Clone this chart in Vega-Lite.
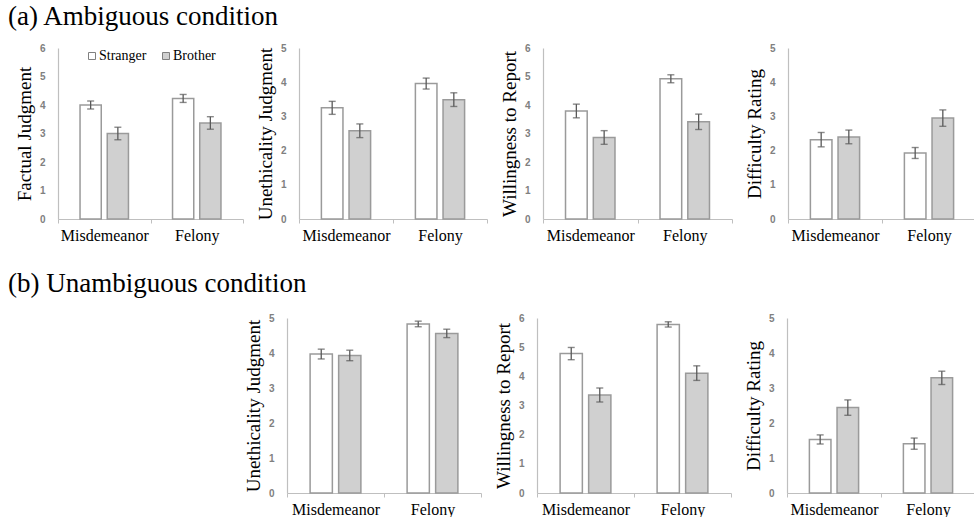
{
  "$schema": "https://vega.github.io/schema/vega-lite/v6.json",
  "autosize": {"type": "pad"},
  "padding": {"left": 8, "top": 3, "right": 0, "bottom": 0},
  "background": "white",
  "datasets": {
    "d": [
      {"panel": "p1", "crime": "Misdemeanor", "group": "Stranger", "mean": 4.0, "lo": 3.86, "hi": 4.14},
      {"panel": "p1", "crime": "Misdemeanor", "group": "Brother", "mean": 3.0, "lo": 2.78, "hi": 3.22},
      {"panel": "p1", "crime": "Felony", "group": "Stranger", "mean": 4.23, "lo": 4.09, "hi": 4.37},
      {"panel": "p1", "crime": "Felony", "group": "Brother", "mean": 3.37, "lo": 3.15, "hi": 3.59},
      {"panel": "p2", "crime": "Misdemeanor", "group": "Stranger", "mean": 3.25, "lo": 3.06, "hi": 3.44},
      {"panel": "p2", "crime": "Misdemeanor", "group": "Brother", "mean": 2.58, "lo": 2.38, "hi": 2.78},
      {"panel": "p2", "crime": "Felony", "group": "Stranger", "mean": 3.96, "lo": 3.8, "hi": 4.12},
      {"panel": "p2", "crime": "Felony", "group": "Brother", "mean": 3.49, "lo": 3.29, "hi": 3.69},
      {"panel": "p3", "crime": "Misdemeanor", "group": "Stranger", "mean": 3.79, "lo": 3.55, "hi": 4.03},
      {"panel": "p3", "crime": "Misdemeanor", "group": "Brother", "mean": 2.86, "lo": 2.62, "hi": 3.1},
      {"panel": "p3", "crime": "Felony", "group": "Stranger", "mean": 4.92, "lo": 4.78, "hi": 5.06},
      {"panel": "p3", "crime": "Felony", "group": "Brother", "mean": 3.41, "lo": 3.14, "hi": 3.68},
      {"panel": "p4", "crime": "Misdemeanor", "group": "Stranger", "mean": 2.32, "lo": 2.11, "hi": 2.53},
      {"panel": "p4", "crime": "Misdemeanor", "group": "Brother", "mean": 2.4, "lo": 2.2, "hi": 2.6},
      {"panel": "p4", "crime": "Felony", "group": "Stranger", "mean": 1.93, "lo": 1.77, "hi": 2.09},
      {"panel": "p4", "crime": "Felony", "group": "Brother", "mean": 2.95, "lo": 2.71, "hi": 3.19},
      {"panel": "p5", "crime": "Misdemeanor", "group": "Stranger", "mean": 3.97, "lo": 3.83, "hi": 4.11},
      {"panel": "p5", "crime": "Misdemeanor", "group": "Brother", "mean": 3.93, "lo": 3.78, "hi": 4.08},
      {"panel": "p5", "crime": "Felony", "group": "Stranger", "mean": 4.83, "lo": 4.75, "hi": 4.91},
      {"panel": "p5", "crime": "Felony", "group": "Brother", "mean": 4.56, "lo": 4.44, "hi": 4.68},
      {"panel": "p6", "crime": "Misdemeanor", "group": "Stranger", "mean": 4.78, "lo": 4.57, "hi": 4.99},
      {"panel": "p6", "crime": "Misdemeanor", "group": "Brother", "mean": 3.36, "lo": 3.12, "hi": 3.6},
      {"panel": "p6", "crime": "Felony", "group": "Stranger", "mean": 5.78, "lo": 5.69, "hi": 5.87},
      {"panel": "p6", "crime": "Felony", "group": "Brother", "mean": 4.11, "lo": 3.86, "hi": 4.36},
      {"panel": "p7", "crime": "Misdemeanor", "group": "Stranger", "mean": 1.53, "lo": 1.4, "hi": 1.66},
      {"panel": "p7", "crime": "Misdemeanor", "group": "Brother", "mean": 2.44, "lo": 2.22, "hi": 2.66},
      {"panel": "p7", "crime": "Felony", "group": "Stranger", "mean": 1.41, "lo": 1.25, "hi": 1.57},
      {"panel": "p7", "crime": "Felony", "group": "Brother", "mean": 3.29, "lo": 3.1, "hi": 3.48}
    ],
    "empty": []
  },
  "data": {"name": "d"},
  "spacing": 27,
  "resolve": {
    "scale": {"x": "independent", "y": "independent", "xOffset": "independent", "fill": "independent"},
    "legend": {"fill": "independent"}
  },
  "vconcat": [
    {
      "title": {"text": "(a) Ambiguous condition", "dx": -50, "offset": 12},
      "bounds": "flush",
      "spacing": 56,
      "resolve": {
        "scale": {"x": "independent", "y": "independent", "xOffset": "independent", "fill": "independent"},
        "legend": {"fill": "independent"}
      },
      "hconcat": [
        {
          "width": 185, "height": 171,
          "transform": [{"filter": "datum.panel == 'p1'"}],
          "encoding": {
            "x": {"field": "crime", "type": "nominal", "sort": ["Misdemeanor", "Felony"], "scale": {"paddingInner": 0, "paddingOuter": 0}},
            "xOffset": {"field": "group", "type": "nominal", "sort": ["Stranger", "Brother"], "scale": {"paddingInner": 0.22, "paddingOuter": 0.81}}
          },
          "layer": [
            {"mark": {"type": "bar", "stroke": "#9a9a9a", "strokeWidth": 1.5},
             "encoding": {
               "y": {"field": "mean", "type": "quantitative", "title": "Factual Judgment", "scale": {"domain": [0, 6]}, "axis": {"values": [0, 1, 2, 3, 4, 5, 6], "labelOverlap": false}},
               "fill": {"field": "group", "type": "nominal", "sort": ["Stranger", "Brother"], "scale": {"domain": ["Stranger", "Brother"], "range": ["#ffffff", "#d0d0d0"]},
                 "legend": {"title": null, "orient": "none", "legendX": 27, "legendY": 1, "padding": 0, "direction": "horizontal", "symbolType": "square", "symbolSize": 49, "symbolStrokeColor": "#808080", "symbolStrokeWidth": 1, "labelFont": "Liberation Serif", "labelFontSize": 14, "labelColor": "#000", "labelOffset": 0, "columnPadding": 12}}
             }},
            {"mark": {"type": "rule", "color": "#595959", "strokeWidth": 1.3},
             "encoding": {"y": {"field": "lo", "type": "quantitative", "title": "Factual Judgment", "axis": {"values": [0, 1, 2, 3, 4, 5, 6], "labelOverlap": false}}, "y2": {"field": "hi"}}},
            {"mark": {"type": "tick", "color": "#595959", "size": 7, "thickness": 1.4},
             "encoding": {"y": {"field": "lo", "type": "quantitative", "title": "Factual Judgment", "axis": {"values": [0, 1, 2, 3, 4, 5, 6], "labelOverlap": false}}}},
            {"mark": {"type": "tick", "color": "#595959", "size": 7, "thickness": 1.4},
             "encoding": {"y": {"field": "hi", "type": "quantitative", "title": "Factual Judgment", "axis": {"values": [0, 1, 2, 3, 4, 5, 6], "labelOverlap": false}}}}
          ]
        },
        {
          "width": 188, "height": 171,
          "transform": [{"filter": "datum.panel == 'p2'"}],
          "encoding": {
            "x": {"field": "crime", "type": "nominal", "sort": ["Misdemeanor", "Felony"], "scale": {"paddingInner": 0, "paddingOuter": 0}},
            "xOffset": {"field": "group", "type": "nominal", "sort": ["Stranger", "Brother"], "scale": {"paddingInner": 0.22, "paddingOuter": 0.81}}
          },
          "layer": [
            {"mark": {"type": "bar", "stroke": "#9a9a9a", "strokeWidth": 1.5},
             "encoding": {
               "y": {"field": "mean", "type": "quantitative", "title": "Unethicality Judgment", "scale": {"domain": [0, 5]}, "axis": {"values": [0, 1, 2, 3, 4, 5], "labelOverlap": false}},
               "fill": {"field": "group", "type": "nominal", "scale": {"domain": ["Stranger", "Brother"], "range": ["#ffffff", "#d0d0d0"]}, "legend": null}
             }},
            {"mark": {"type": "rule", "color": "#595959", "strokeWidth": 1.3},
             "encoding": {"y": {"field": "lo", "type": "quantitative", "title": "Unethicality Judgment", "axis": {"values": [0, 1, 2, 3, 4, 5], "labelOverlap": false}}, "y2": {"field": "hi"}}},
            {"mark": {"type": "tick", "color": "#595959", "size": 7, "thickness": 1.4},
             "encoding": {"y": {"field": "lo", "type": "quantitative", "title": "Unethicality Judgment", "axis": {"values": [0, 1, 2, 3, 4, 5], "labelOverlap": false}}}},
            {"mark": {"type": "tick", "color": "#595959", "size": 7, "thickness": 1.4},
             "encoding": {"y": {"field": "hi", "type": "quantitative", "title": "Unethicality Judgment", "axis": {"values": [0, 1, 2, 3, 4, 5], "labelOverlap": false}}}}
          ]
        },
        {
          "width": 189, "height": 171,
          "transform": [{"filter": "datum.panel == 'p3'"}],
          "encoding": {
            "x": {"field": "crime", "type": "nominal", "sort": ["Misdemeanor", "Felony"], "scale": {"paddingInner": 0, "paddingOuter": 0}},
            "xOffset": {"field": "group", "type": "nominal", "sort": ["Stranger", "Brother"], "scale": {"paddingInner": 0.22, "paddingOuter": 0.81}}
          },
          "layer": [
            {"mark": {"type": "bar", "stroke": "#9a9a9a", "strokeWidth": 1.5},
             "encoding": {
               "y": {"field": "mean", "type": "quantitative", "title": "Willingness to Report", "scale": {"domain": [0, 6]}, "axis": {"values": [0, 1, 2, 3, 4, 5, 6], "labelOverlap": false}},
               "fill": {"field": "group", "type": "nominal", "scale": {"domain": ["Stranger", "Brother"], "range": ["#ffffff", "#d0d0d0"]}, "legend": null}
             }},
            {"mark": {"type": "rule", "color": "#595959", "strokeWidth": 1.3},
             "encoding": {"y": {"field": "lo", "type": "quantitative", "title": "Willingness to Report", "axis": {"values": [0, 1, 2, 3, 4, 5, 6], "labelOverlap": false}}, "y2": {"field": "hi"}}},
            {"mark": {"type": "tick", "color": "#595959", "size": 7, "thickness": 1.4},
             "encoding": {"y": {"field": "lo", "type": "quantitative", "title": "Willingness to Report", "axis": {"values": [0, 1, 2, 3, 4, 5, 6], "labelOverlap": false}}}},
            {"mark": {"type": "tick", "color": "#595959", "size": 7, "thickness": 1.4},
             "encoding": {"y": {"field": "hi", "type": "quantitative", "title": "Willingness to Report", "axis": {"values": [0, 1, 2, 3, 4, 5, 6], "labelOverlap": false}}}}
          ]
        },
        {
          "width": 188, "height": 171,
          "transform": [{"filter": "datum.panel == 'p4'"}],
          "encoding": {
            "x": {"field": "crime", "type": "nominal", "sort": ["Misdemeanor", "Felony"], "scale": {"paddingInner": 0, "paddingOuter": 0}},
            "xOffset": {"field": "group", "type": "nominal", "sort": ["Stranger", "Brother"], "scale": {"paddingInner": 0.22, "paddingOuter": 0.81}}
          },
          "layer": [
            {"mark": {"type": "bar", "stroke": "#9a9a9a", "strokeWidth": 1.5},
             "encoding": {
               "y": {"field": "mean", "type": "quantitative", "title": "Difficulty Rating", "scale": {"domain": [0, 5]}, "axis": {"values": [0, 1, 2, 3, 4, 5], "labelOverlap": false}},
               "fill": {"field": "group", "type": "nominal", "scale": {"domain": ["Stranger", "Brother"], "range": ["#ffffff", "#d0d0d0"]}, "legend": null}
             }},
            {"mark": {"type": "rule", "color": "#595959", "strokeWidth": 1.3},
             "encoding": {"y": {"field": "lo", "type": "quantitative", "title": "Difficulty Rating", "axis": {"values": [0, 1, 2, 3, 4, 5], "labelOverlap": false}}, "y2": {"field": "hi"}}},
            {"mark": {"type": "tick", "color": "#595959", "size": 7, "thickness": 1.4},
             "encoding": {"y": {"field": "lo", "type": "quantitative", "title": "Difficulty Rating", "axis": {"values": [0, 1, 2, 3, 4, 5], "labelOverlap": false}}}},
            {"mark": {"type": "tick", "color": "#595959", "size": 7, "thickness": 1.4},
             "encoding": {"y": {"field": "hi", "type": "quantitative", "title": "Difficulty Rating", "axis": {"values": [0, 1, 2, 3, 4, 5], "labelOverlap": false}}}}
          ]
        }
      ]
    },
    {
      "title": {"text": "(b) Unambiguous condition", "dx": -50, "offset": 15},
      "bounds": "flush",
      "spacing": 56,
      "resolve": {
        "scale": {"x": "independent", "y": "independent", "xOffset": "independent", "fill": "independent"},
        "legend": {"fill": "independent"}
      },
      "hconcat": [
        {
          "width": 173, "height": 175,
          "data": {"name": "empty"},
          "mark": {"type": "point", "opacity": 0}
        },
        {
          "width": 194, "height": 175,
          "transform": [{"filter": "datum.panel == 'p5'"}],
          "encoding": {
            "x": {"field": "crime", "type": "nominal", "sort": ["Misdemeanor", "Felony"], "scale": {"paddingInner": 0, "paddingOuter": 0}},
            "xOffset": {"field": "group", "type": "nominal", "sort": ["Stranger", "Brother"], "scale": {"paddingInner": 0.22, "paddingOuter": 0.81}}
          },
          "layer": [
            {"mark": {"type": "bar", "stroke": "#9a9a9a", "strokeWidth": 1.5},
             "encoding": {
               "y": {"field": "mean", "type": "quantitative", "title": "Unethicality Judgment", "scale": {"domain": [0, 5]}, "axis": {"values": [0, 1, 2, 3, 4, 5], "labelOverlap": false}},
               "fill": {"field": "group", "type": "nominal", "scale": {"domain": ["Stranger", "Brother"], "range": ["#ffffff", "#d0d0d0"]}, "legend": null}
             }},
            {"mark": {"type": "rule", "color": "#595959", "strokeWidth": 1.3},
             "encoding": {"y": {"field": "lo", "type": "quantitative", "title": "Unethicality Judgment", "axis": {"values": [0, 1, 2, 3, 4, 5], "labelOverlap": false}}, "y2": {"field": "hi"}}},
            {"mark": {"type": "tick", "color": "#595959", "size": 7, "thickness": 1.4},
             "encoding": {"y": {"field": "lo", "type": "quantitative", "title": "Unethicality Judgment", "axis": {"values": [0, 1, 2, 3, 4, 5], "labelOverlap": false}}}},
            {"mark": {"type": "tick", "color": "#595959", "size": 7, "thickness": 1.4},
             "encoding": {"y": {"field": "hi", "type": "quantitative", "title": "Unethicality Judgment", "axis": {"values": [0, 1, 2, 3, 4, 5], "labelOverlap": false}}}}
          ]
        },
        {
          "width": 194, "height": 175,
          "transform": [{"filter": "datum.panel == 'p6'"}],
          "encoding": {
            "x": {"field": "crime", "type": "nominal", "sort": ["Misdemeanor", "Felony"], "scale": {"paddingInner": 0, "paddingOuter": 0}},
            "xOffset": {"field": "group", "type": "nominal", "sort": ["Stranger", "Brother"], "scale": {"paddingInner": 0.22, "paddingOuter": 0.81}}
          },
          "layer": [
            {"mark": {"type": "bar", "stroke": "#9a9a9a", "strokeWidth": 1.5},
             "encoding": {
               "y": {"field": "mean", "type": "quantitative", "title": "Willingness to Report", "scale": {"domain": [0, 6]}, "axis": {"values": [0, 1, 2, 3, 4, 5, 6], "labelOverlap": false}},
               "fill": {"field": "group", "type": "nominal", "scale": {"domain": ["Stranger", "Brother"], "range": ["#ffffff", "#d0d0d0"]}, "legend": null}
             }},
            {"mark": {"type": "rule", "color": "#595959", "strokeWidth": 1.3},
             "encoding": {"y": {"field": "lo", "type": "quantitative", "title": "Willingness to Report", "axis": {"values": [0, 1, 2, 3, 4, 5, 6], "labelOverlap": false}}, "y2": {"field": "hi"}}},
            {"mark": {"type": "tick", "color": "#595959", "size": 7, "thickness": 1.4},
             "encoding": {"y": {"field": "lo", "type": "quantitative", "title": "Willingness to Report", "axis": {"values": [0, 1, 2, 3, 4, 5, 6], "labelOverlap": false}}}},
            {"mark": {"type": "tick", "color": "#595959", "size": 7, "thickness": 1.4},
             "encoding": {"y": {"field": "hi", "type": "quantitative", "title": "Willingness to Report", "axis": {"values": [0, 1, 2, 3, 4, 5, 6], "labelOverlap": false}}}}
          ]
        },
        {
          "width": 188, "height": 175,
          "transform": [{"filter": "datum.panel == 'p7'"}],
          "encoding": {
            "x": {"field": "crime", "type": "nominal", "sort": ["Misdemeanor", "Felony"], "scale": {"paddingInner": 0, "paddingOuter": 0}},
            "xOffset": {"field": "group", "type": "nominal", "sort": ["Stranger", "Brother"], "scale": {"paddingInner": 0.22, "paddingOuter": 0.81}}
          },
          "layer": [
            {"mark": {"type": "bar", "stroke": "#9a9a9a", "strokeWidth": 1.5},
             "encoding": {
               "y": {"field": "mean", "type": "quantitative", "title": "Difficulty Rating", "scale": {"domain": [0, 5]}, "axis": {"values": [0, 1, 2, 3, 4, 5], "labelOverlap": false}},
               "fill": {"field": "group", "type": "nominal", "scale": {"domain": ["Stranger", "Brother"], "range": ["#ffffff", "#d0d0d0"]}, "legend": null}
             }},
            {"mark": {"type": "rule", "color": "#595959", "strokeWidth": 1.3},
             "encoding": {"y": {"field": "lo", "type": "quantitative", "title": "Difficulty Rating", "axis": {"values": [0, 1, 2, 3, 4, 5], "labelOverlap": false}}, "y2": {"field": "hi"}}},
            {"mark": {"type": "tick", "color": "#595959", "size": 7, "thickness": 1.4},
             "encoding": {"y": {"field": "lo", "type": "quantitative", "title": "Difficulty Rating", "axis": {"values": [0, 1, 2, 3, 4, 5], "labelOverlap": false}}}},
            {"mark": {"type": "tick", "color": "#595959", "size": 7, "thickness": 1.4},
             "encoding": {"y": {"field": "hi", "type": "quantitative", "title": "Difficulty Rating", "axis": {"values": [0, 1, 2, 3, 4, 5], "labelOverlap": false}}}}
          ]
        }
      ]
    }
  ],
  "config": {
    "view": {"stroke": null},
    "title": {"font": "Liberation Serif", "fontSize": 27, "fontWeight": "normal", "anchor": "start", "frame": "group", "color": "#000000"},
    "axisX": {"title": null, "labelAngle": 0, "labelFont": "Liberation Serif", "labelFontSize": 16, "labelColor": "#000000", "labelPadding": 4, "tickBand": "extent", "tickSize": 4, "tickColor": "#BFBFBF", "domainColor": "#BFBFBF", "domainWidth": 1.2},
    "axisY": {"domainColor": "#BFBFBF", "domainWidth": 1.2, "ticks": false, "grid": false, "labelOverlap": false, "labelFont": "Liberation Sans", "labelFontWeight": "bold", "labelFontSize": 10, "labelColor": "#808080", "labelPadding": 13, "titleFont": "Liberation Serif", "titleFontSize": 19, "titleFontWeight": "normal", "titleColor": "#000000", "titlePadding": 5}
  }
}
